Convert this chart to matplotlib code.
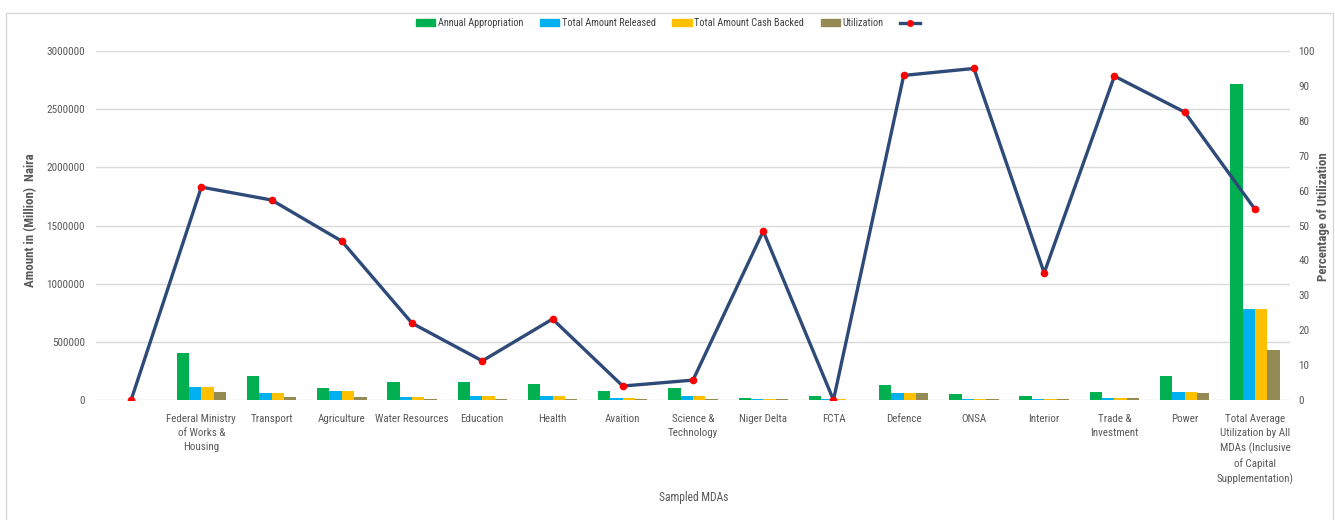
import matplotlib
matplotlib.use("Agg")
import matplotlib.pyplot as plt
import numpy as np
from matplotlib import font_manager
from matplotlib.patches import Rectangle, Patch
from matplotlib.lines import Line2D
from matplotlib.ticker import FuncFormatter

available = {f.name for f in font_manager.fontManager.ttflist}
narrow_candidates = ['Liberation Sans Narrow', 'DejaVu Sans Condensed', 'Roboto Condensed',
                     'Open Sans Condensed', 'Noto Sans Condensed', 'Arial Narrow']
narrow = next((f for f in narrow_candidates if f in available), None)
if narrow is None:
    narrow = 'Liberation Sans' if 'Liberation Sans' in available else 'DejaVu Sans'
    scale = 0.88
else:
    scale = 1.0
plt.rcParams['font.family'] = [narrow, 'DejaVu Sans']
plt.rcParams['font.stretch'] = 'condensed'

categories = ["", "Federal Ministry\nof Works &\nHousing", "Transport", "Agriculture",
              "Water Resources", "Education", "Health", "Avaition", "Science &\nTechnology",
              "Niger Delta", "FCTA", "Defence", "ONSA", "Interior", "Trade &\nInvestment",
              "Power", "Total Average\nUtilization by All\nMDAs (Inclusive\nof Capital\nSupplementation)"]

annual_appropriation = [0, 405000, 210000, 101000, 156000, 156000, 139000, 75000, 101000,
                        20000, 37000, 130000, 49000, 37000, 67000, 210000, 2720000]
total_released = [0, 110000, 58000, 75000, 29000, 37000, 37000, 17000, 37000,
                  10000, 10000, 58000, 10000, 10000, 20000, 67000, 780000]
total_cash_backed = [0, 110000, 58000, 75000, 29000, 37000, 37000, 17000, 37000,
                     10000, 10000, 58000, 10000, 10000, 20000, 67000, 780000]
utilization = [0, 67000, 29000, 29000, 12000, 12000, 12000, 12000, 12000,
               10000, 0, 58000, 10000, 10000, 20000, 58000, 433000]
pct_utilization = [0, 61.0, 57.3, 45.5, 22.0, 11.2, 23.2, 4.0, 5.7,
                   48.4, 0, 93.0, 95.0, 36.4, 92.8, 82.5, 54.7]

series = [("Annual Appropriation", annual_appropriation, "#00B050"),
          ("Total Amount Released", total_released, "#00B0F0"),
          ("Total Amount Cash Backed", total_cash_backed, "#FFC000"),
          ("Utilization", utilization, "#948A54")]

fs_tick = 8.0 * scale
fs_cat = 7.9 * scale
fs_leg = 7.4 * scale

fig = plt.figure(figsize=(13.35, 5.2), dpi=100)
W, H = 1335, 520
fig.patches.append(Rectangle((6 / W, -0.01), 1327 / W, 1 - 13 / H + 0.01,
                             transform=fig.transFigure, fill=False,
                             edgecolor="#D9D9D9", linewidth=1.0))

ax = fig.add_axes([96 / W, 120 / H, (1290 - 96) / W, (469 - 120) / H])
ax2 = ax.twinx()

x = np.arange(len(categories))
bw = 0.176
for i, (name, vals, col) in enumerate(series):
    ax.bar(x + (i - 1.5) * bw, vals, width=bw, color=col, label=name, zorder=2)

ax.set_xlim(-0.5, len(categories) - 0.5)
ax.set_ylim(0, 3000000)
ax.set_yticks(np.arange(0, 3000001, 500000))
ax.yaxis.set_major_formatter(FuncFormatter(lambda v, p: f"{int(round(v))}"))
ax.yaxis.grid(True, color="#D9D9D9", linewidth=1.0, zorder=0)
ax.set_axisbelow(True)
for s in ax.spines.values():
    s.set_visible(False)
for s in ax2.spines.values():
    s.set_visible(False)
ax.tick_params(axis='both', length=0, colors="#595959", labelsize=fs_tick)
ax.tick_params(axis='y', pad=8)
ax.set_xticks(x)
ax.set_xticklabels(categories, fontsize=fs_cat, color="#595959", linespacing=1.5)
ax.tick_params(axis='x', pad=10)

ax2.plot(x, pct_utilization, color="#2E4A78", linewidth=2.4, zorder=5,
         marker='o', markersize=4.5, markerfacecolor="#FF0000", markeredgecolor="#FF0000")
ax2.set_ylim(0, 100)
ax2.set_yticks(np.arange(0, 101, 10))
ax2.tick_params(axis='y', length=0, colors="#595959", labelsize=fs_tick, pad=6)

fig.text(31 / W, 1 - 220 / H, "Amount in (Million)  Naira",
         rotation=90, ha='center', va='center', fontsize=9.3 * scale, fontweight='bold', color="#595959")
fig.text(1323 / W, 1 - 217 / H, "Percentage of Utilization", rotation=90, ha='center', va='center',
         fontsize=9.3 * scale, fontweight='bold', color="#595959")
fig.text(694 / W, 1 - 498 / H, "Sampled MDAs", ha='center', va='center', fontsize=8.3 * scale, color="#595959")

handles = [Patch(color=c) for _, _, c in series] + [
    Line2D([], [], color="#2E4A78", linewidth=2.4, marker='o', markersize=4,
           markerfacecolor="#FF0000", markeredgecolor="#FF0000")]
labels = [n for n, _, _ in series] + [""]
fig.legend(handles, labels, loc='center', bbox_to_anchor=(669 / W, 1 - 23 / H), ncol=5,
           frameon=False, fontsize=fs_leg, handlelength=1.9, handleheight=0.6, columnspacing=1.6,
           handletextpad=0.25, labelcolor="#404040")

fig.savefig("out.png", dpi=100)
